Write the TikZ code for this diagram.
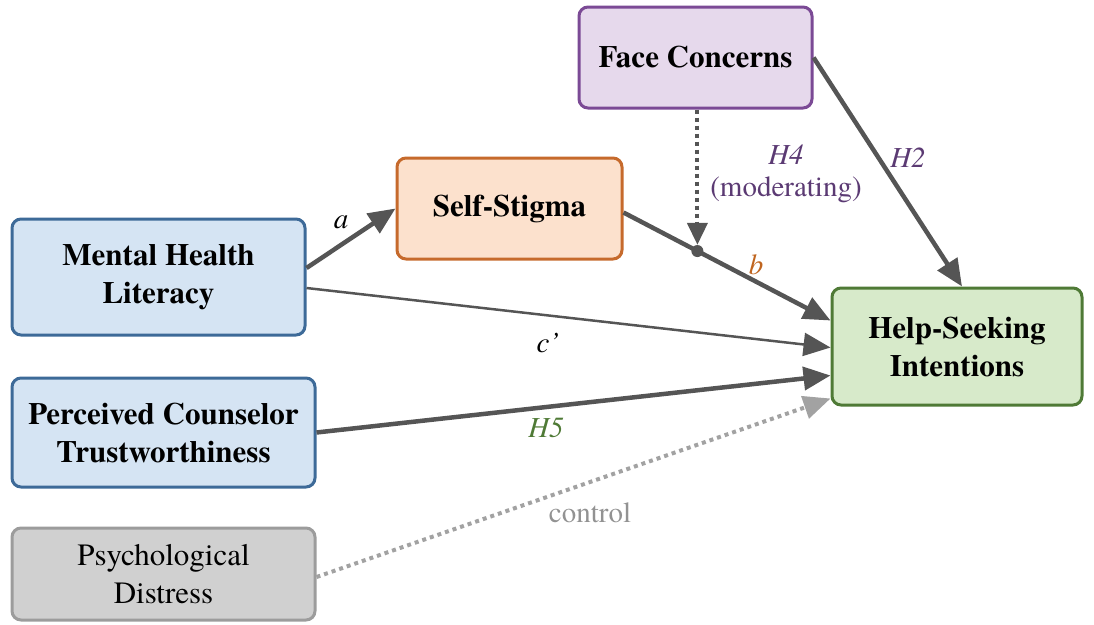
\documentclass[tikz,border=0pt]{standalone}
\usepackage{fontspec}
\setmainfont{texgyretermes}[Extension=.otf, UprightFont=*-regular,
  BoldFont=*-bold, ItalicFont=*-italic, BoldItalicFont=*-bolditalic]
\usetikzlibrary{arrows.meta,calc}

\definecolor{facefill}{HTML}{E6D9EC}
\definecolor{faceline}{HTML}{7B4A95}
\definecolor{stigfill}{HTML}{FCE1CD}
\definecolor{stigline}{HTML}{C66A2C}
\definecolor{bluefill}{HTML}{D5E4F3}
\definecolor{blueline}{HTML}{3D6A98}
\definecolor{grayfill}{HTML}{D0D0D0}
\definecolor{grayline}{HTML}{9C9C9C}
\definecolor{greenfill}{HTML}{D7EACA}
\definecolor{greenline}{HTML}{4F7A36}
\definecolor{arrowgray}{HTML}{555555}
\definecolor{ctrlgray}{HTML}{A2A2A2}
\definecolor{hypurple}{HTML}{5B3A73}
\definecolor{hyorange}{HTML}{C0651F}
\definecolor{hygreen}{HTML}{4F7A36}

\begin{document}
\begin{tikzpicture}[x=1pt, y=-1pt,
    varbox/.style={draw, line width=3pt, rounded corners=9pt, align=center,
      inner sep=0pt, font=\fontsize{31}{38}\selectfont\bfseries},
    effect/.style={draw=arrowgray, line width=4.5pt,
      -{Triangle[length=27pt,width=23pt]}},
    lbl/.style={font=\fontsize{29}{34}\selectfont\itshape}]
  \useasboundingbox (0,0) rectangle (1094,624);

  % variables
  \node[varbox, fill=facefill, draw=faceline, minimum width=233pt, minimum height=101pt]
    (fc) at (695.5,57.5) {Face Concerns};
  \node[varbox, fill=stigfill, draw=stigline, minimum width=225pt, minimum height=101pt]
    (ss) at (509.5,208.5) {Self-Stigma};
  \node[varbox, fill=bluefill, draw=blueline, minimum width=293pt, minimum height=116pt]
    (mhl) at (158.5,277) {Mental Health\\Literacy};
  \node[varbox, fill=bluefill, draw=blueline, minimum width=303pt, minimum height=109pt]
    (pct) at (163.5,432.5) {Perceived Counselor\\Trustworthiness};
  \node[varbox, fill=grayfill, draw=grayline, minimum width=303pt, minimum height=92pt,
    font=\fontsize{31}{38}\selectfont]
    (pd) at (163.5,574) {Psychological\\Distress};
  \node[varbox, fill=greenfill, draw=greenline, minimum width=250pt, minimum height=117pt]
    (hsi) at (957,346.5) {Help-Seeking\\Intentions};

  % paths
  \draw[effect] ([yshift=9pt]mhl.east) -- (ss.west);
  \draw[effect] ([yshift=-4pt]ss.east) -- ([yshift=26pt]hsi.west);
  \draw[effect, line width=2.5pt] ([yshift=-11pt]mhl.east) -- ([yshift=-1pt]hsi.west);
  \draw[effect] (pct.east) -- ([yshift=-29pt]hsi.west);
  \draw[effect] (fc.east) -- ([xshift=5pt]hsi.north);
  \draw[effect, draw=ctrlgray, line width=4pt, dash pattern=on 4pt off 4pt]
    ([yshift=-3pt]pd.east) -- ([yshift=-52pt]hsi.west);

  % moderation
  \node[circle, fill=arrowgray, inner sep=0pt, minimum size=12pt] (mod)
    at ($([yshift=-4pt]ss.east)!0.357!([yshift=26pt]hsi.west)$) {};
  \draw[effect, line width=4pt, dash pattern=on 4pt off 4pt,
    -{Triangle[length=22pt,width=20pt]}] (fc.south -| mod) -- (mod.north);

  % labels
  \node[lbl] (la) at (341,222) {a};
  \node[lbl] (lc) at (548,343) {c’};
  \node[lbl, text=hyorange] (lb) at (756,265) {b};
  \node[lbl, text=hypurple] (lh4) at (786,155) {H4};
  \node[lbl, text=hypurple, font=\fontsize{29}{34}\selectfont] (lmod) at (786,190) {(moderating)};
  \node[lbl, text=hypurple] (lh2) at (908,158) {H2};
  \node[lbl, text=hygreen] (lh5) at (546,428) {H5};
  \node[lbl, text=ctrlgray!90!black, font=\fontsize{29}{34}\selectfont] (lctrl) at (590,513) {control};
\end{tikzpicture}
\end{document}
